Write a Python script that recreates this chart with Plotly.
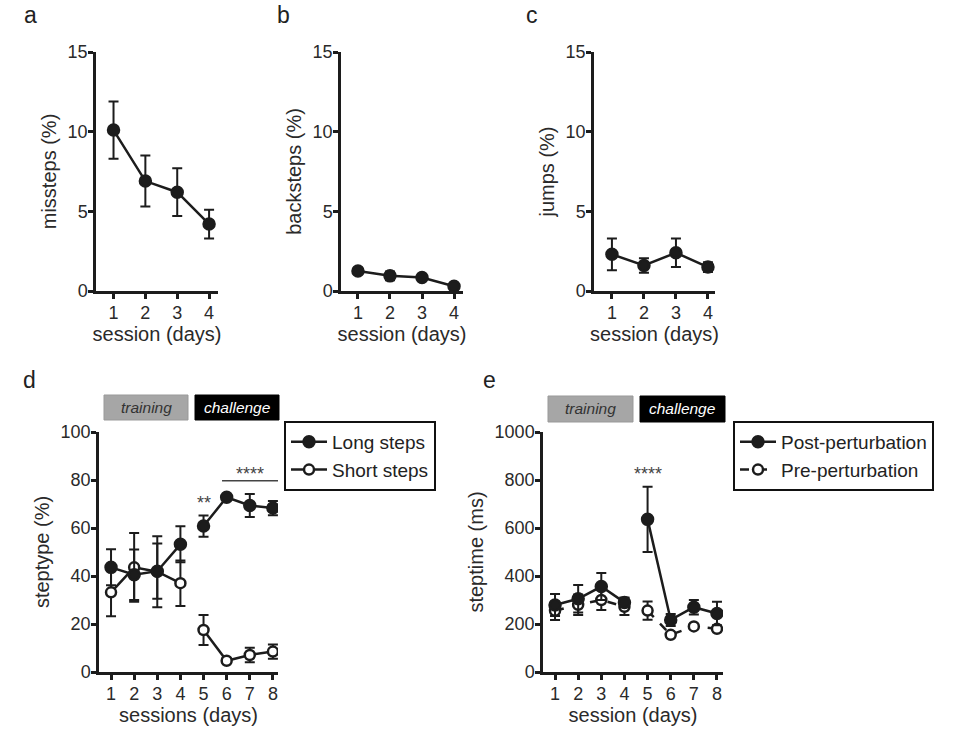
import plotly.graph_objects as go

# ---------------- data ----------------
sessions4 = [1, 2, 3, 4]
missteps = [10.1, 6.9, 6.2, 4.2]
missteps_err = [1.8, 1.6, 1.5, 0.9]
backsteps = [1.25, 0.95, 0.85, 0.3]
backsteps_err = [0.1, 0.28, 0.1, 0.1]
jumps = [2.3, 1.6, 2.4, 1.5]
jumps_err = [1.0, 0.45, 0.9, 0.3]

sessions8 = [1, 2, 3, 4, 5, 6, 7, 8]
long_steps = [43.6, 40.5, 42.0, 53.2, 60.8, 72.8, 69.4, 68.3]
long_err = [7.5, 10.5, 11.5, 7.5, 4.4, 1.0, 4.8, 3.0]
short_steps = [33.2, 43.6, 41.8, 37.0, 17.5, 4.7, 7.1, 8.5]
short_err = [10.0, 14.3, 14.8, 9.5, 6.2, 1.0, 3.0, 3.0]
post_pert = [279, 305, 356, 290, 636, 217, 270, 244]
post_err = [46, 57, 56, 20, 136, 25, 30, 49]
pre_pert = [255, 280, 300, 272, 256, 155, 190, 180]
pre_err = [38, 43, 42, 35, 38, 10, 10, 10]

ticks_a = [0, 5, 10, 15]
ticks_d = [0, 20, 40, 60, 80, 100]
ticks_e = [0, 200, 400, 600, 800, 1000]

# ---------------- styling ----------------
W, H = 960, 744
FONT = "Liberation Sans, Arial, Helvetica, sans-serif"
INK = "#1c1c1c"
TXT = "#2a2a2a"


def fx(p):
    return p / W


def fy(p):
    return 1 - p / H


fig = go.Figure()

panels = [
    ("", (96, 218), (52, 291), [0.45, 4.28], [0, 15], ticks_a, "missteps (%)", "session (days)", sessions4),
    ("2", (341, 463), (52, 291), [0.47, 4.28], [0, 15], ticks_a, "backsteps (%)", "session (days)", sessions4),
    ("3", (594, 715), (52, 291), [0.44, 4.22], [0, 15], ticks_a, "jumps (%)", "session (days)", sessions4),
    ("4", (99, 278), (432, 672), [0.48, 8.22], [0, 100], ticks_d, "steptype (%)", "sessions (days)", sessions8),
    ("5", (543, 723), (432, 672), [0.48, 8.26], [0, 1000], ticks_e, "steptime (ms)", "session (days)", sessions8),
]

layout_axes = {}
for name, xd, yd, xr, yr, yt, ytitle, xtitle, xt in panels:
    common = dict(
        showline=True, linecolor=INK, linewidth=2.5, ticks="outside", ticklen=5,
        tickwidth=2.5, tickcolor=INK, showgrid=False, zeroline=False, automargin=False,
        tickfont=dict(family=FONT, size=18, color=TXT), fixedrange=True,
    )
    layout_axes["xaxis" + name] = dict(
        common, domain=[fx(xd[0]), fx(xd[1])], range=xr, tickvals=xt,
        anchor="y" + name, ticklabelstandoff=-1,
        title=dict(text=xtitle, font=dict(family=FONT, size=20, color=TXT), standoff=5),
    )
    layout_axes["yaxis" + name] = dict(
        common, domain=[fy(yd[1]), fy(yd[0])], range=yr, tickvals=yt,
        anchor="x" + name, ticklabelstandoff=-3,
        title=dict(text=ytitle, font=dict(family=FONT, size=20, color=TXT), standoff=6),
    )


def err(arr):
    return dict(type="data", array=arr, visible=True, color=INK, thickness=2, width=5)


def add_series(x, y, e, axis, filled=True, dash="solid", name=None, legend=None,
               showlegend=False, rank=1000):
    fig.add_trace(go.Scatter(
        x=x, y=y, error_y=err(e), mode="lines+markers",
        xaxis="x" + axis, yaxis="y" + axis,
        line=dict(color=INK, width=2.5, dash=dash),
        marker=dict(size=11 if filled else 10, color=INK if filled else "white",
                    line=dict(color=INK, width=2.5)),
        name=name, showlegend=showlegend, legend=legend, legendrank=rank,
    ))


# panels a-c
add_series(sessions4, missteps, missteps_err, "")
add_series(sessions4, backsteps, backsteps_err, "2")
add_series(sessions4, jumps, jumps_err, "3")

# panel d (gap between training and challenge)
add_series(sessions8[:4], short_steps[:4], short_err[:4], "4", filled=False,
           name="Short steps", legend="legend", showlegend=True, rank=2)
add_series(sessions8[4:], short_steps[4:], short_err[4:], "4", filled=False)
add_series(sessions8[:4], long_steps[:4], long_err[:4], "4",
           name="Long steps", legend="legend", showlegend=True, rank=1)
add_series(sessions8[4:], long_steps[4:], long_err[4:], "4")

# panel e
add_series(sessions8[:4], pre_pert[:4], pre_err[:4], "5", filled=False, dash="dash",
           name="Pre-perturbation", legend="legend2", showlegend=True, rank=2)
add_series(sessions8[4:], pre_pert[4:], pre_err[4:], "5", filled=False, dash="dash")
add_series(sessions8[:4], post_pert[:4], post_err[:4], "5", name="Post-perturbation",
           legend="legend2", showlegend=True, rank=1)
add_series(sessions8[4:], post_pert[4:], post_err[4:], "5")

shapes = []
annotations = []

# panel letters
for letter, x, y in [("a", 30, 15), ("b", 283, 15), ("c", 532, 15), ("d", 29, 380), ("e", 490, 380)]:
    annotations.append(dict(text=letter, x=fx(x), y=fy(y), xref="paper", yref="paper",
                            showarrow=False, font=dict(family=FONT, size=23, color="#222"),
                            xanchor="center", yanchor="middle"))

# training / challenge headers
for (tx0, tx1, ty0, ty1), (cx0, cx1, cy0, cy1) in [
    ((104, 188, 395, 420), (195, 279, 395, 420)),
    ((548, 633, 396, 422), (640, 725, 396, 422)),
]:
    shapes.append(dict(type="rect", xref="paper", yref="paper", x0=fx(tx0), x1=fx(tx1),
                       y0=fy(ty1), y1=fy(ty0), fillcolor="#a6a6a6", line=dict(color="#999", width=1)))
    shapes.append(dict(type="rect", xref="paper", yref="paper", x0=fx(cx0), x1=fx(cx1),
                       y0=fy(cy1), y1=fy(cy0), fillcolor="#000000", line=dict(color="#000", width=1)))
    annotations.append(dict(text="<i>training</i>", x=fx((tx0 + tx1) / 2), y=fy((ty0 + ty1) / 2),
                            xref="paper", yref="paper", showarrow=False,
                            xanchor="center", yanchor="middle",
                            font=dict(family=FONT, size=15.5, color="#333")))
    annotations.append(dict(text="<i>challenge</i>", x=fx((cx0 + cx1) / 2), y=fy((cy0 + cy1) / 2),
                            xref="paper", yref="paper", showarrow=False,
                            xanchor="center", yanchor="middle",
                            font=dict(family=FONT, size=15.5, color="white")))

# significance marks
annotations.append(dict(text="**", x=5, y=70.5, xref="x4", yref="y4", showarrow=False,
                        xanchor="center", font=dict(family=FONT, size=18, color="#444")))
annotations.append(dict(text="****", x=7, y=82.5, xref="x4", yref="y4", showarrow=False,
                        xanchor="center", font=dict(family=FONT, size=18, color="#444")))
shapes.append(dict(type="line", xref="x4", yref="y4", x0=5.8, x1=8.25, y0=79.7, y1=79.7,
                   line=dict(color="#444", width=1.5)))
annotations.append(dict(text="****", x=5, y=823, xref="x5", yref="y5", showarrow=False,
                        xanchor="center", font=dict(family=FONT, size=18, color="#444")))

legend_style = dict(bordercolor="#111", borderwidth=2, bgcolor="white",
                    font=dict(family=FONT, size=19, color="#222"), xanchor="left", yanchor="top",
                    tracegroupgap=0, itemwidth=36, traceorder="normal")

fig.update_layout(
    width=W, height=H, autosize=False,
    margin=dict(l=0, r=0, t=0, b=0),
    paper_bgcolor="white", plot_bgcolor="white",
    font=dict(family=FONT, color=TXT),
    shapes=shapes, annotations=annotations,
    legend=dict(legend_style, x=fx(284), y=fy(421)),
    legend2=dict(legend_style, x=fx(733), y=fy(421)),
    **layout_axes,
)

fig.write_html("out.html")
